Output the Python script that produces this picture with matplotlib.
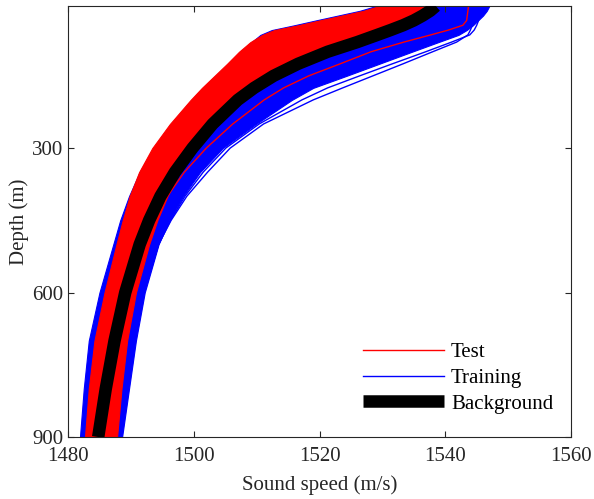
import matplotlib
matplotlib.use("Agg")
import matplotlib.pyplot as plt
from matplotlib.lines import Line2D

plt.rcParams["font.family"] = ["Liberation Serif", "DejaVu Serif"]
plt.rcParams["font.size"] = 15

# depth grid (m)
depth = [5, 15, 25, 35, 45, 55, 65, 80, 100, 125, 150, 175, 200, 250, 300, 350,
         400, 450, 500, 600, 700, 800, 900]

# background sound speed profile (m/s)
background = [1538.5, 1537.6, 1536.4, 1535.0, 1533.3, 1531.3, 1529.2, 1526.0, 1521.3,
              1516.6, 1512.7, 1509.6, 1507.0, 1503.0, 1499.8, 1497.0, 1494.7, 1492.9,
              1491.4, 1489.1, 1487.4, 1486.0, 1484.8]

# test ensemble envelope
test_lo = [1529.5, 1527.0, 1523.5, 1520.0, 1516.6, 1512.8, 1510.9, 1509.0, 1507.2,
           1505.3, 1503.3, 1501.3, 1499.5, 1496.2, 1493.4, 1491.3, 1489.8, 1488.7,
           1487.7, 1485.8, 1484.2, 1483.3, 1482.7]
test_hi = [1538.5, 1537.6, 1536.4, 1535.0, 1533.3, 1531.3, 1529.2, 1526.0, 1521.3,
           1516.6, 1512.7, 1509.6, 1507.0, 1503.0, 1500.1, 1497.8, 1495.8, 1494.2,
           1492.9, 1490.8, 1489.4, 1488.5, 1487.8]
# single test profile lying inside the training band
test_member = [1543.7, 1543.6, 1543.5, 1543.4, 1542.8, 1540.5, 1537.7, 1533.4, 1528.2,
               1523.3, 1518.3, 1514.3, 1511.2, 1506.2, 1502.0, 1498.5, 1495.8, 1494.1,
               1492.8, 1490.6, 1489.2, 1488.3, 1487.6]

# training ensemble envelope
train_lo = [1529.0, 1526.4, 1522.9, 1519.4, 1516.0, 1512.4, 1510.6, 1509.2, 1507.4,
            1505.5, 1503.5, 1501.5, 1499.7, 1496.4, 1493.6, 1491.4, 1489.7, 1488.3,
            1487.2, 1485.0, 1483.3, 1482.5, 1481.9]
train_hi = [1547.0, 1546.6, 1546.0, 1545.2, 1544.4, 1543.4, 1542.1, 1538.9, 1534.7,
            1529.5, 1524.3, 1519.0, 1515.6, 1509.9, 1504.6, 1501.0, 1498.3, 1496.1,
            1494.4, 1492.2, 1490.8, 1489.7, 1488.6]
# outlying training profiles
train_out_a = [1545.5, 1545.2, 1544.9, 1544.6, 1544.3, 1544.0, 1543.6, 1541.8, 1538.0,
               1533.3, 1528.5, 1523.7, 1519.0, 1511.1, 1505.8, 1502.2, 1498.9, 1496.4,
               1494.4, 1492.1, 1490.7, 1489.6, 1488.5]
train_out_b = [1546.2, 1545.9, 1545.6, 1545.3, 1545.0, 1544.6, 1543.9, 1541.0, 1536.9,
               1531.6, 1526.4, 1521.3, 1517.2, 1510.4, 1505.1, 1501.5, 1498.6, 1496.3,
               1494.4, 1492.1, 1490.7, 1489.6, 1488.5]

fig = plt.figure(figsize=(5.94, 4.99), dpi=100)
ax = fig.add_axes([0.1145, 0.1242, 0.8468, 0.8638])

ax.fill_betweenx(depth, train_lo, train_hi, color="blue", lw=0.8, zorder=1)
ax.plot(train_out_a, depth, color="blue", lw=1.0, zorder=1)
ax.plot(train_out_b, depth, color="blue", lw=1.0, zorder=1)
ax.fill_betweenx(depth, test_lo, test_hi, color="red", lw=0.8, zorder=2)
ax.plot(test_member, depth, color="red", lw=1.0, zorder=2)
ax.plot(background, depth, color="black", lw=9, solid_capstyle="butt", zorder=3)

ax.set_xlim(1480, 1560)
ax.set_ylim(900, 5)
ax.set_xticks([1480, 1500, 1520, 1540, 1560])
ax.set_yticks([300, 600, 900])
ax.tick_params(direction="in", top=True, right=True, length=4.5, width=0.8,
               colors="#262626", labelcolor="#262626", labelsize=15)
ax.tick_params(axis="x", pad=7.5)
for s in ax.spines.values():
    s.set_linewidth(0.8)
    s.set_color("#262626")

ax.set_xlabel("Sound speed (m/s)", fontsize=15, color="#262626", labelpad=6)
ax.set_ylabel("Depth (m)", fontsize=15, color="#262626", labelpad=2)

handles = [Line2D([], [], color="red", lw=1.0),
           Line2D([], [], color="blue", lw=1.0),
           Line2D([], [], color="black", lw=9, solid_capstyle="butt")]
fig.legend(handles, ["Test", "Training", "Background"], loc="upper left",
           bbox_to_anchor=(353 / 594, 1 - 332 / 499), frameon=False, borderpad=0,
           handlelength=3.85, handletextpad=0.35, labelspacing=0.3, fontsize=15)

fig.savefig("out.png", dpi=100)
